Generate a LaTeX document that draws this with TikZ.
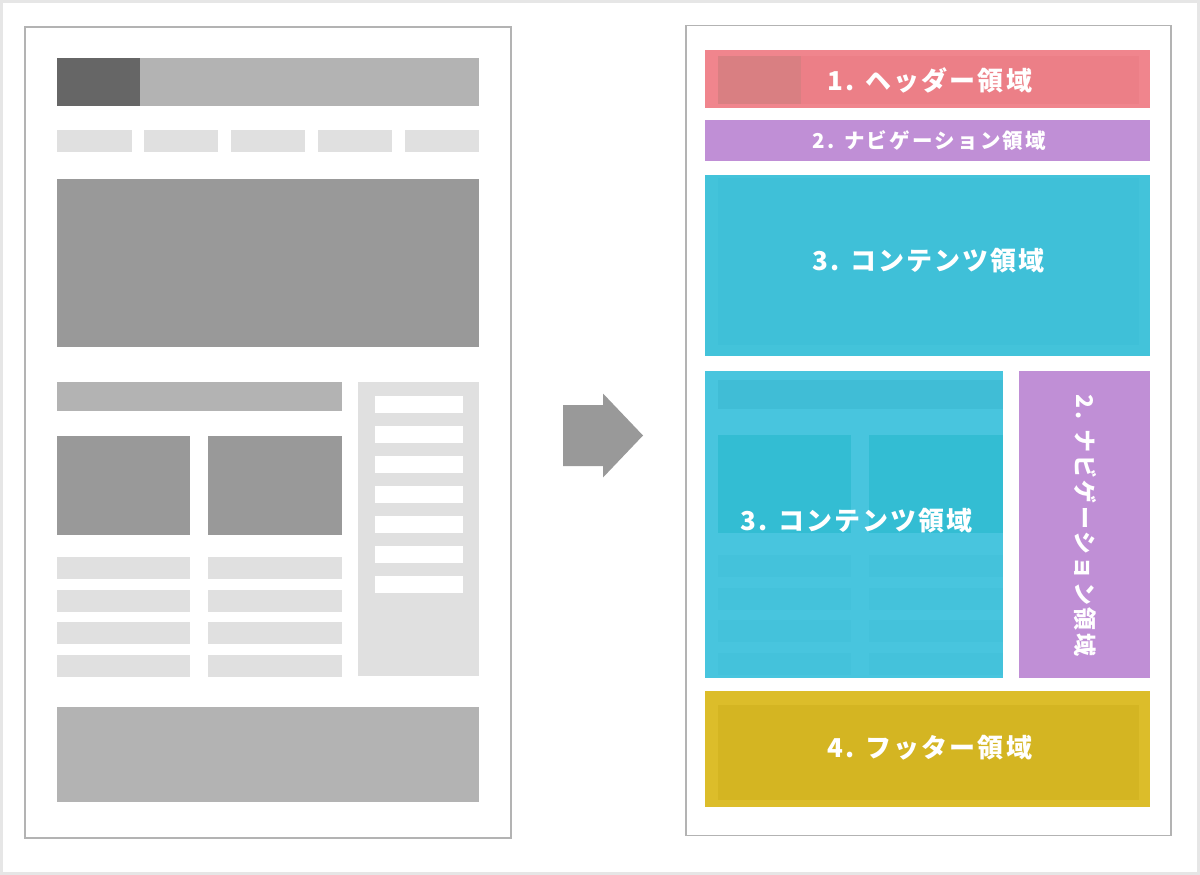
\documentclass[tikz,border=0pt]{standalone}
\usepackage{fontspec}
\newfontfamily\jp{Noto Sans CJK JP}[LetterSpace=8]
\newfontfamily\jpw{Noto Sans CJK JP}[LetterSpace=11]
\definecolor{frameg}{HTML}{E6E6E6}
\definecolor{pageb}{HTML}{B3B3B3}
\definecolor{gdark}{HTML}{666666}
\definecolor{gmid}{HTML}{B3B3B3}
\definecolor{ghero}{HTML}{999999}
\definecolor{glight}{HTML}{E0E0E0}
\definecolor{hdrout}{HTML}{F0858D}
\definecolor{hdrin}{HTML}{EC7F87}
\definecolor{hdrlogo}{HTML}{D97F82}
\definecolor{navc}{HTML}{C08FD6}
\definecolor{conout}{HTML}{43C3DA}
\definecolor{conin}{HTML}{3FC0D8}
\definecolor{contwo}{HTML}{48C5DE}
\definecolor{conbar}{HTML}{40BDD6}
\definecolor{conimg}{HTML}{33BDD3}
\definecolor{conline}{HTML}{44C2DB}
\definecolor{ftout}{HTML}{DCBD2A}
\definecolor{ftin}{HTML}{D4B522}
\tikzset{
  lbl/.style={text=white, inner sep=0pt, font=\jp\bfseries\fontsize{26}{26}\selectfont},
  lblsmall/.style={lbl, font=\jpw\bfseries\fontsize{20.5}{20.5}\selectfont},
  lblvert/.style={lbl, font=\jpw\bfseries\fontsize{23}{23}\selectfont, rotate=-90},
  pageframe/.style={draw=pageb, line width=1.3pt, fill=white}
}
\begin{document}
\begin{tikzpicture}[x=1pt,y=-1pt]
\useasboundingbox (0,0) rectangle (1200,875);
\fill[white] (0,0) rectangle (1200,875);
\draw[frameg, line width=3pt] (1.5,1.5) rectangle (1198.5,873.5);

% ---------- left page ----------
\draw[pageframe] (25,27) rectangle (511,838);
\fill[gmid] (57,58) rectangle (479,106);
\fill[gdark] (57,58) rectangle (140,106);
\foreach \x in {57,143.5,230.5,317.5,404.5}{
  \fill[glight] (\x,130) rectangle ++(74.5,22);
}
\fill[ghero] (57,179) rectangle (479,347);
\fill[gmid] (57,382) rectangle (342,411);
\fill[ghero] (57,436) rectangle (190,535);
\fill[ghero] (208,436) rectangle (342,535);
\foreach \y in {557,589.5,622,654.5}{
  \fill[glight] (57,\y) rectangle (190,\y+22);
  \fill[glight] (208,\y) rectangle (342,\y+22);
}
\fill[glight] (358,382) rectangle (479,676);
\foreach \y in {396,426,456,486,516,546,576}{
  \fill[white] (375,\y) rectangle (463,\y+17);
}
\fill[gmid] (57,707) rectangle (479,802);

% ---------- arrow ----------
\fill[ghero] (563,405) -- (603,405) -- (603,393.5) -- (643,435.5) -- (603,477.5) -- (603,466) -- (563,466) -- cycle;

% ---------- right page ----------
\draw[pageframe] (686,25.5) rectangle (1171,835.5);
% header
\fill[hdrout] (705,50.5) rectangle (1150,107.5);
\fill[hdrin] (718,56) rectangle (1139,104);
\fill[hdrlogo] (718,56) rectangle (801,104);
\node[lbl] (hdr) at (930,80) {1. ヘッダー領域};
% nav
\fill[navc] (705,120) rectangle (1150,160.5);
\node[lblsmall] (nav) at (929.5,141) {2. ナビゲーション領域};
% content 1
\fill[conout] (705,175) rectangle (1150,356);
\fill[conin] (718,178) rectangle (1139,345);
\node[lbl] (con1) at (928.5,261) {3. コンテンツ領域};
% content 2
\fill[contwo] (705,371) rectangle (1002.5,678);
\fill[conbar] (718,380) rectangle (1002.5,409);
\fill[conimg] (718,434.5) rectangle (851,533);
\fill[conimg] (869,434.5) rectangle (1002.5,533);
\foreach \y in {555,587.5,620,652.5}{
  \fill[conline] (718,\y) rectangle (851,\y+22);
  \fill[conline] (869,\y) rectangle (1002.5,\y+22);
}
\node[lbl] (con2) at (856.5,521) {3. コンテンツ領域};
% nav vertical
\fill[navc] (1019,371) rectangle (1150,678);
\node[lblvert] (navv) at (1085,525.5) {2. ナビゲーション領域};
% footer
\fill[ftout] (705,691) rectangle (1150,807);
\fill[ftin] (718,704.5) rectangle (1139,800);
\node[lbl] (ftr) at (930,748) {4. フッター領域};
\end{tikzpicture}
\end{document}
